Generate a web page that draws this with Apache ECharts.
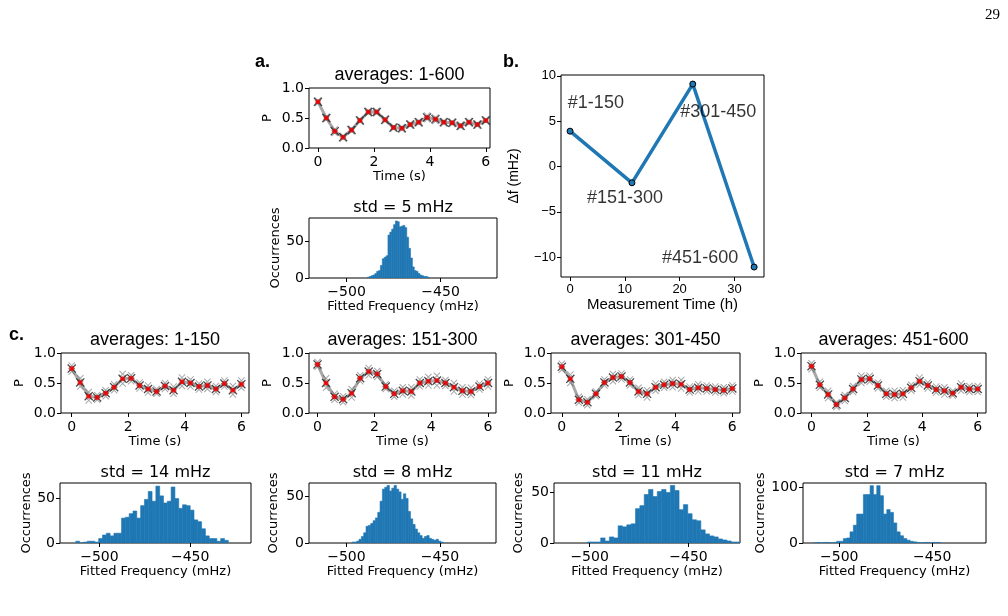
<!DOCTYPE html>
<html>
<head>
<meta charset="utf-8">
<script src="https://cdn.jsdelivr.net/npm/echarts/dist/echarts.min.js"></script>
<style>
  html, body { margin: 0; padding: 0; background: #fff; }
  #chart { width: 1008px; height: 616px; }
</style>
</head>
<body>
<div id="chart"></div>
<script>
// sampling times of the Ramsey-like traces (s)
const times = [0, 0.3, 0.6, 0.9, 1.2, 1.5, 1.8, 2.1, 2.4, 2.7, 3.0, 3.3, 3.6, 3.9, 4.2, 4.5, 4.8, 5.1, 5.4, 5.7, 6.0];

// averaged P for each block, and the half-width of the grey cloud of single runs
const pAll      = [0.77, 0.50, 0.28, 0.18, 0.30, 0.46, 0.60, 0.60, 0.47, 0.34, 0.33, 0.39, 0.43, 0.51, 0.48, 0.43, 0.42, 0.37, 0.43, 0.39, 0.46];
const spreadAll = [0.02, 0.02, 0.03, 0.02, 0.02, 0.02, 0.02, 0.02, 0.02, 0.02, 0.02, 0.02, 0.02, 0.03, 0.03, 0.02, 0.02, 0.02, 0.02, 0.02, 0.02];
const p150      = [0.74, 0.51, 0.28, 0.26, 0.33, 0.43, 0.57, 0.58, 0.46, 0.40, 0.36, 0.45, 0.38, 0.52, 0.50, 0.44, 0.46, 0.40, 0.49, 0.38, 0.48];
const spread150 = [0.05, 0.07, 0.07, 0.04, 0.05, 0.05, 0.08, 0.05, 0.05, 0.06, 0.04, 0.05, 0.06, 0.07, 0.06, 0.05, 0.06, 0.05, 0.05, 0.07, 0.06];
const p300      = [0.81, 0.50, 0.27, 0.23, 0.33, 0.58, 0.69, 0.65, 0.44, 0.32, 0.37, 0.36, 0.50, 0.53, 0.54, 0.50, 0.43, 0.37, 0.36, 0.44, 0.50];
const spread300 = [0.04, 0.08, 0.05, 0.05, 0.07, 0.05, 0.06, 0.05, 0.04, 0.05, 0.06, 0.07, 0.06, 0.07, 0.08, 0.05, 0.07, 0.06, 0.06, 0.05, 0.06];
const p450      = [0.77, 0.57, 0.22, 0.18, 0.32, 0.51, 0.59, 0.61, 0.51, 0.36, 0.32, 0.43, 0.47, 0.49, 0.48, 0.39, 0.42, 0.41, 0.39, 0.38, 0.41];
const spread450 = [0.05, 0.07, 0.05, 0.05, 0.04, 0.05, 0.06, 0.05, 0.05, 0.06, 0.06, 0.06, 0.05, 0.06, 0.07, 0.05, 0.06, 0.05, 0.05, 0.05, 0.05];
const p600      = [0.78, 0.47, 0.31, 0.14, 0.25, 0.40, 0.56, 0.57, 0.46, 0.32, 0.31, 0.32, 0.42, 0.53, 0.46, 0.39, 0.37, 0.33, 0.43, 0.40, 0.40];
const spread600 = [0.05, 0.05, 0.06, 0.04, 0.05, 0.05, 0.06, 0.05, 0.05, 0.05, 0.06, 0.06, 0.05, 0.06, 0.05, 0.05, 0.06, 0.04, 0.06, 0.05, 0.05];

// histograms of fitted frequency (mHz): first bin edge, bin width, counts
const histAllStart = -489, histAllBin = 1.0;
const histAll = [1, 2, 3, 4, 6, 9, 10, 17, 26, 28, 30, 58, 62, 66, 72, 77, 76, 69, 70, 71, 68, 55, 40, 27, 15, 10, 9, 6, 4, 3, 2, 2, 1];
const hist150Start = -513, hist150Bin = 2.1;
const hist150 = [2, 0, 1, 2, 2, 1, 5, 9, 11, 8, 11, 11, 28, 29, 33, 36, 28, 42, 49, 58, 47, 64, 53, 45, 47, 63, 50, 39, 43, 42, 37, 26, 24, 16, 8, 5, 5, 2, 5, 3];
const hist300Start = -497, hist300Bin = 1.25;
const hist300 = [1, 1, 2, 4, 7, 11, 18, 19, 21, 24, 27, 33, 45, 58, 60, 62, 56, 59, 62, 58, 55, 47, 53, 48, 34, 26, 20, 15, 11, 8, 5, 7, 8, 5, 4, 3, 4, 2, 1];
const hist450Start = -501, hist450Bin = 2.2;
const hist450 = [1, 1, 1, 5, 2, 6, 5, 17, 16, 18, 19, 34, 37, 48, 53, 46, 51, 53, 50, 57, 52, 33, 38, 29, 23, 22, 13, 9, 7, 6, 4, 3, 2, 1, 1];
const hist600Start = -514, hist600Bin = 1.8;
const hist600 = [0, 1, 0, 1, 1, 0, 1, 3, 3, 8, 9, 20, 32, 52, 52, 87, 87, 103, 87, 103, 85, 52, 60, 55, 36, 20, 13, 8, 5, 3, 2, 1, 0, 1, 1, 0, 1, 1];

// panel b: frequency drift per block
const driftTime   = [0, 11.3, 22.4, 33.6];
const driftDelta  = [3.9, -1.8, 9.1, -11.1];
const driftLabels = ['#1-150', '#151-300', '#301-450', '#451-600'];

// tick labels
const timeTicks = [0, 2, 4, 6];
const pTicks = [0, 0.5, 1];
const freqTicks = [-500, -450];
const driftXTicks = [0, 10, 20, 30];
const driftYTicks = [-10, -5, 0, 5, 10];

// where the block labels sit in panel b (data coords, left edge / middle)
const driftLabelAnchor = [[-0.4, 7.0], [3.1, -3.5], [20.1, 6.0], [16.8, -10.1]];

const DV = 'DejaVu Sans';
const LS = 'Liberation Sans';
const BLUE = '#1f77b4';
const CROSS = 'path://M0,1L1,0L5,4L9,0L10,1L6,5L10,9L9,10L5,6L1,10L0,9L4,5Z';

const chart = echarts.init(document.getElementById('chart'));
const grids = [], xAxes = [], yAxes = [], series = [], titles = [];

function minusFmt(v) { return v < 0 ? '\u2212' + Math.abs(v) : String(v); }

function axis(gi, min, max, ticks, fmt, name, gap, font, size, nameSize, margin) {
  return {
    type: 'value', gridIndex: gi, min: min, max: max,
    axisLine: { show: false, onZero: false },
    axisTick: { show: true, inside: false, length: 4, customValues: ticks, lineStyle: { color: '#000', width: 1 } },
    axisLabel: { customValues: ticks, formatter: fmt, fontFamily: font, fontSize: size, color: '#000', margin: margin },
    splitLine: { show: false },
    name: name, nameLocation: 'middle', nameGap: gap,
    nameTextStyle: { fontFamily: font, fontSize: nameSize, color: '#000' }
  };
}

function addGrid(box) {
  grids.push({ left: box[0], top: box[1], width: box[2], height: box[3], show: true,
    borderColor: '#000', borderWidth: 1, backgroundColor: 'transparent', containLabel: false });
  return grids.length - 1;
}

function addTitle(text, cx, top, font, size, weight) {
  titles.push({ text: text, left: cx, top: top, textAlign: 'center', padding: 0,
    textStyle: { fontFamily: font, fontSize: size, fontWeight: weight || 'normal', color: '#000' } });
}

function addTopPanel(box, mean, spread, title, xmin, xmax) {
  const gi = addGrid(box);
  xAxes.push(axis(gi, xmin, xmax, timeTicks, v => String(v), 'Time (s)', 21, DV, 14, 13, 7));
  yAxes.push(axis(gi, 0, 1, pTicks, v => v.toFixed(1), 'P', 35, DV, 14, 13, 5));
  const base = { xAxisIndex: gi, yAxisIndex: gi, silent: true, animation: false };
  series.push(Object.assign({ type: 'line', data: times.map((t, i) => [t, mean[i]]), symbol: 'none',
    lineStyle: { color: '#a8a8a8', width: 3 }, z: 2 }, base));
  series.push(Object.assign({ type: 'scatter', data: times.map((t, i) => [t, mean[i] - spread[i]]),
    symbol: CROSS, symbolSize: 7, itemStyle: { color: 'rgba(70,70,70,0.6)' }, z: 3 }, base));
  series.push(Object.assign({ type: 'scatter', data: times.map((t, i) => [t, mean[i] + spread[i]]),
    symbol: CROSS, symbolSize: 7, itemStyle: { color: 'rgba(70,70,70,0.6)' }, z: 3 }, base));
  series.push(Object.assign({ type: 'scatter', data: times.map((t, i) => [t, mean[i]]),
    symbol: CROSS, symbolSize: 9, itemStyle: { color: '#1a1a1a' }, z: 4 }, base));
  series.push(Object.assign({ type: 'scatter', data: times.map((t, i) => [t, mean[i]]),
    symbol: 'circle', symbolSize: 5, itemStyle: { color: '#ff0000' }, z: 5 }, base));
  addTitle(title, box[0] + box[2] / 2, box[1] - 22, LS, 18);
}

function renderBar(params, api) {
  const a = api.coord([api.value(0), api.value(2)]);
  const b = api.coord([api.value(1), 0]);
  return { type: 'rect', shape: { x: a[0], y: a[1], width: b[0] - a[0], height: b[1] - a[1] },
    style: { fill: BLUE, stroke: BLUE, lineWidth: 0.6 } };
}

function addHist(box, start, bin, counts, title, xmin, xmax, ymax, yticks, ygap) {
  const gi = addGrid(box);
  xAxes.push(axis(gi, xmin, xmax, freqTicks, minusFmt, 'Fitted Frequency (mHz)', 22, DV, 14, 13, 7));
  yAxes.push(axis(gi, 0, ymax, yticks, v => String(v), 'Occurrences', ygap, DV, 14, 13, 5));
  series.push({ type: 'custom', xAxisIndex: gi, yAxisIndex: gi, silent: true, animation: false,
    data: counts.map((c, i) => [start + i * bin, start + (i + 1) * bin, c]),
    encode: { x: [0, 1], y: 2 }, renderItem: renderBar, clip: true });
  addTitle(title, box[0] + box[2] / 2, box[1] - 18, DV, 16);
}

// panel a
addTopPanel([309, 88, 181, 60], pAll, spreadAll, 'averages: 1-600', -0.32, 6.15);
addHist([309, 218, 188, 60], histAllStart, histAllBin, histAll, 'std = 5 mHz', -520, -420, 81, [0, 50], 27);

// panel b
(function () {
  const gi = addGrid([561, 75, 203, 202]);
  xAxes.push(axis(gi, -1.65, 35.4, driftXTicks, v => String(v), 'Measurement Time (h)', 19, LS, 13, 15, 6));
  yAxes.push(axis(gi, -12.2, 10.1, driftYTicks, minusFmt, '\u0394f (mHz)', 40, LS, 13, 14, 5));
  series.push({ type: 'line', xAxisIndex: gi, yAxisIndex: gi, silent: true, animation: false,
    data: driftTime.map((t, i) => [t, driftDelta[i]]),
    lineStyle: { color: BLUE, width: 3.5 }, symbol: 'circle', symbolSize: 6, showSymbol: true,
    itemStyle: { color: BLUE, borderColor: '#000', borderWidth: 1 }, z: 3 });
  series.push({ type: 'scatter', xAxisIndex: gi, yAxisIndex: gi, silent: true, animation: false,
    data: driftLabels.map((n, i) => ({ name: n, value: driftLabelAnchor[i] })),
    symbolSize: 0,
    label: { show: true, position: 'right', distance: 0, formatter: '{b}',
      fontFamily: LS, fontSize: 18, color: '#000', textBorderWidth: 0 }, z: 4 });
})();

// panel c
addTopPanel([61, 353, 188, 60], p150, spread150, 'averages: 1-150', -0.38, 6.27);
addTopPanel([309, 353, 187, 60], p300, spread300, 'averages: 151-300', -0.3, 6.28);
addTopPanel([551, 353, 189, 60], p450, spread450, 'averages: 301-450', -0.38, 6.27);
addTopPanel([801, 353, 185, 60], p600, spread600, 'averages: 451-600', -0.38, 6.3);

addHist([60, 483, 191, 60], hist150Start, hist150Bin, hist150, 'std = 14 mHz', -521.7, -416.5, 67.5, [0, 50], 25);
addHist([309, 483, 187, 60], hist300Start, hist300Bin, hist300, 'std = 8 mHz', -520, -420, 64.6, [0, 50], 29);
addHist([554, 483, 186, 60], hist450Start, hist450Bin, hist450, 'std = 11 mHz', -518, -424, 59.4, [0, 50], 29);
addHist([803, 483, 183, 60], hist600Start, hist600Bin, hist600, 'std = 7 mHz', -519.5, -421, 107.8, [0, 100], 36);

// panel letters and page number
const letterStyle = { fontFamily: LS, fontSize: 18, fontWeight: 'bold', color: '#000' };
titles.push({ text: 'a.', left: 255, top: 53, padding: 0, textStyle: letterStyle });
titles.push({ text: 'b.', left: 503, top: 53, padding: 0, textStyle: letterStyle });
titles.push({ text: 'c.', left: 9, top: 326, padding: 0, textStyle: letterStyle });
titles.push({ text: '29', left: 985, top: 8, padding: 0,
  textStyle: { fontFamily: 'Liberation Serif', fontSize: 15, fontWeight: 'normal', color: '#000' } });

chart.setOption({
  backgroundColor: '#fff',
  animation: false,
  title: titles,
  grid: grids,
  xAxis: xAxes,
  yAxis: yAxes,
  series: series
});
</script>
</body>
</html>
